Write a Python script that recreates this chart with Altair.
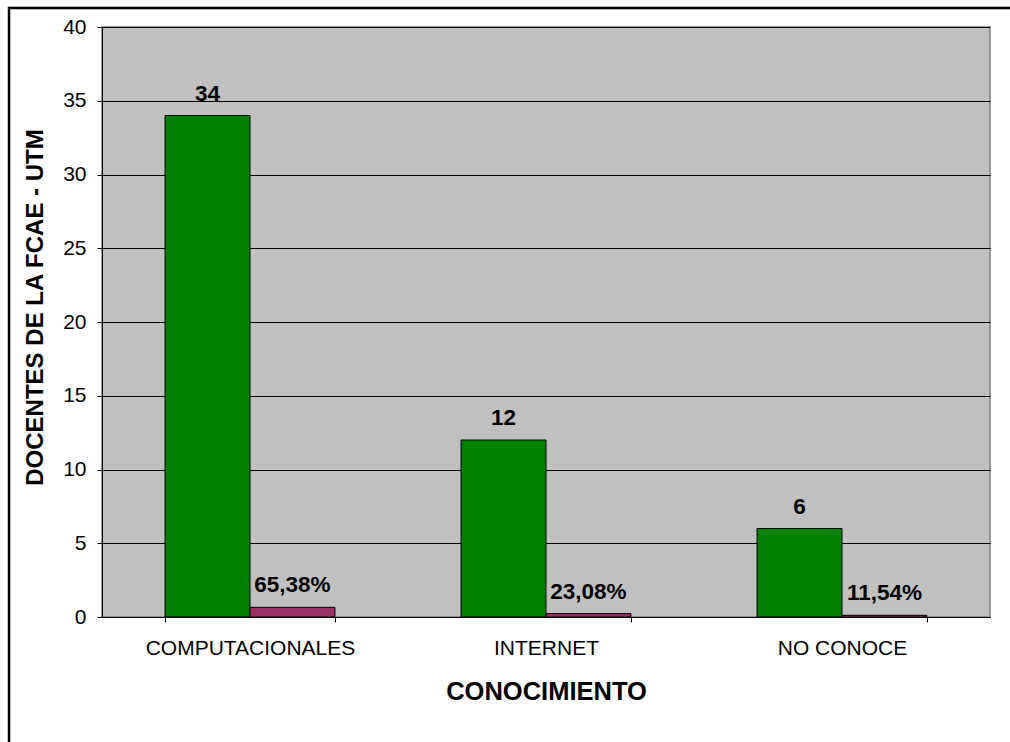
import altair as alt
import pandas as pd

categories = ["COMPUTACIONALES", "INTERNET", "NO CONOCE"]
counts = [34, 12, 6]
percents = [65.38, 23.08, 11.54]
pct_labels = ["65,38%", "23,08%", "11,54%"]

rows = []
for c, n, p, pl in zip(categories, counts, percents, pct_labels):
    rows.append({"cat": c, "serie": "A", "valor": n, "etiqueta": str(n)})
    rows.append({"cat": c, "serie": "B", "valor": p / 100.0, "etiqueta": pl})
df = pd.DataFrame(rows)

FONT = "Liberation Sans"

x_enc = alt.X(
    "cat:N",
    sort=categories,
    scale=alt.Scale(paddingInner=0.426, paddingOuter=0.213),
    axis=alt.Axis(
        title="CONOCIMIENTO",
        labelAngle=0,
        labelFontSize=21,
        labelFont=FONT,
        labelColor="black",
        labelPadding=15,
        labelLimit=400,
        tickBand="extent",
        tickSize=5,
        tickColor="black",
        domainColor="black",
        titleFontSize=25.5,
        titleFont=FONT,
        titleFontWeight="bold",
        titleColor="black",
        titleX=444,
        titleY=74,
        titleBaseline="middle",
        titleAlign="center",
    ),
)
xo_enc = alt.XOffset("serie:N", sort=["A", "B"], scale=alt.Scale(paddingInner=0, paddingOuter=0))
y_enc = alt.Y(
    "valor:Q",
    scale=alt.Scale(domain=[0, 40], nice=False),
    axis=alt.Axis(
        title="DOCENTES DE LA FCAE - UTM",
        values=[0, 5, 10, 15, 20, 25, 30, 35, 40],
        labelFontSize=21,
        labelFont=FONT,
        labelColor="black",
        labelPadding=11,
        tickSize=5,
        tickColor="black",
        domainColor="black",
        grid=True,
        gridColor="black",
        gridWidth=1,
        titleFontSize=24,
        titleFont=FONT,
        titleFontWeight="bold",
        titleColor="black",
        titleAngle=-90,
        titleX=-67,
        titleY=280,
        titleBaseline="middle",
        titleAlign="center",
    ),
)

bars = alt.Chart(df).mark_bar(stroke="black", strokeWidth=1).encode(
    x=x_enc,
    xOffset=xo_enc,
    y=y_enc,
    color=alt.Color(
        "serie:N",
        scale=alt.Scale(domain=["A", "B"], range=["#008000", "#993366"]),
        legend=None,
    ),
)

labels = alt.Chart(df).mark_text(
    baseline="bottom", dy=-10, fontSize=22.5, fontWeight="bold", font=FONT, color="black"
).encode(
    x=alt.X("cat:N", sort=categories),
    xOffset=alt.XOffset("serie:N", sort=["A", "B"]),
    y="valor:Q",
    text="etiqueta:N",
)

frame = alt.Chart(pd.DataFrame({"k": [0]})).mark_rect(
    fill=None, fillOpacity=0, stroke="black", strokeWidth=2.5
).encode(
    x=alt.value(-93),
    x2=alt.value(1100),
    y=alt.value(-19),
    y2=alt.value(900),
)

chart = alt.layer(bars, labels, frame).properties(
    width=888,
    height=590,
    autosize=alt.AutoSizeParams(type="none"),
    padding={"left": 102, "top": 27, "right": 20, "bottom": 125},
    background="white",
).configure_view(
    fill="#C0C0C0", stroke="#808080", strokeWidth=1.5
)

chart.save("out.html", embed_options={"renderer": "svg", "actions": False})
